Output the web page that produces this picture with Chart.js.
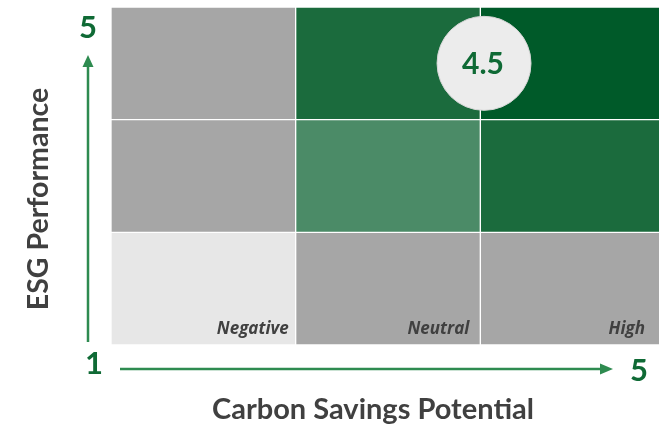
<!DOCTYPE html>
<html>
<head>
<meta charset="utf-8">
<script src="https://cdn.jsdelivr.net/npm/chart.js@4"></script>
<style>
  html, body { margin: 0; padding: 0; background: #fff; overflow: hidden; }
  #wrap { width: 659px; height: 424px; overflow: hidden; }
</style>
</head>
<body>
<div id="wrap"><canvas id="matrix" width="665" height="424"></canvas></div>
<script>
// Carbon savings potential (columns) vs ESG performance (rows)
const columns = ['Negative', 'Neutral', 'High'];
const rows = ['Low', 'Medium', 'High']; // bottom to top
// shade level of each cell, row by row from the bottom
const cellLevels = [
    [0, 1, 1],
    [1, 2, 3],
    [1, 3, 4]
];
const axisMin = 1;
const axisMax = 5;
const score = 4.5;
// where the score bubble sits on the grid (column units, row units)
const scorePos = { x: 2.02, y: 2.5 };

const palette = ['#e7e7e7', '#a6a6a6', '#4b8b67', '#1b6b3d', '#005a29'];
const green = '#2e8b50';
const darkGreen = '#0f6a35';
const textGray = '#404040';
const fontFamily = 'Lato, "Open Sans", sans-serif';

const ctx = document.getElementById('matrix').getContext('2d');

// one stacked dataset per row, each cell is one unit tall
const rowDatasets = rows.map((name, r) => ({
    type: 'bar',
    label: name,
    stack: 'cells',
    grouped: false,
    data: columns.map(() => 1),
    backgroundColor: cellLevels[r].map(l => palette[l]),
    borderColor: '#ffffff',
    borderWidth: 1,
    borderSkipped: false,
    barPercentage: 1,
    categoryPercentage: 1,
    xAxisID: 'x',
    yAxisID: 'y',
    order: 2
}));

// arrows, end values, axis titles and cell captions
const decorations = {
    id: 'decorations',
    afterDatasetsDraw(chart) {
        const c = chart.ctx;
        const area = chart.chartArea;
        const xs = chart.scales.x;
        c.save();

        // captions in the bottom row
        const inset = [7, 11, 20];
        const half = (xs.getPixelForValue(1) - xs.getPixelForValue(0)) / 2;
        c.fillStyle = textGray;
        c.font = 'italic bold 17px "Open Sans", sans-serif';
        c.textAlign = 'right';
        c.textBaseline = 'alphabetic';
        columns.forEach((name, i) => {
            c.fillText(name, xs.getPixelForValue(i) + half - inset[i], area.bottom - 11);
        });

        // score inside the bubble
        const bubble = chart.getDatasetMeta(rows.length).data[0];
        c.fillStyle = darkGreen;
        c.font = 'bold 30px ' + fontFamily;
        c.textAlign = 'center';
        c.textBaseline = 'middle';
        c.fillText(String(score), bubble.x - 1, bubble.y + 1);

        // axis arrows
        c.strokeStyle = green;
        c.fillStyle = green;
        c.lineWidth = 2.5;
        const ax = 88, ay = 369;
        c.beginPath();
        c.moveTo(ax, area.bottom - 3);
        c.lineTo(ax, 64);
        c.stroke();
        c.beginPath();
        c.moveTo(ax, 55);
        c.lineTo(ax - 5.5, 67);
        c.lineTo(ax + 5.5, 67);
        c.closePath();
        c.fill();

        c.beginPath();
        c.moveTo(120, ay);
        c.lineTo(604, ay);
        c.stroke();
        c.beginPath();
        c.moveTo(613, ay);
        c.lineTo(600, ay - 5.5);
        c.lineTo(600, ay + 5.5);
        c.closePath();
        c.fill();

        // end values
        c.fillStyle = darkGreen;
        c.font = 'bold 31px ' + fontFamily;
        c.textAlign = 'center';
        c.textBaseline = 'middle';
        c.fillText(String(axisMax), 88, 28);
        c.fillText(String(axisMin), 94, 364);
        c.fillText(String(axisMax), 639, 371);

        // axis titles
        c.fillStyle = textGray;
        c.font = 'bold 29px ' + fontFamily;
        c.fillText('Carbon Savings Potential', 373, 410);
        c.font = 'bold 28.5px ' + fontFamily;
        c.translate(39, 199);
        c.rotate(-Math.PI / 2);
        c.fillText('ESG Performance', 0, 0);
        c.restore();
    }
};

new Chart(ctx, {
    data: {
        labels: columns,
        datasets: [
            ...rowDatasets,
            {
                type: 'bubble',
                label: 'Score',
                data: [{ x: scorePos.x, y: scorePos.y, r: 47 }],
                backgroundColor: '#ececec',
                borderColor: '#d6d6d6',
                borderWidth: 1,
                xAxisID: 'xs',
                yAxisID: 'y',
                order: 1
            }
        ]
    },
    options: {
        responsive: false,
        animation: false,
        layout: { autoPadding: false, padding: { left: 111, top: 7, right: 0, bottom: 79 } },
        scales: {
            x: { type: 'category', stacked: true, display: false, offset: true, grid: { offset: true } },
            xs: { type: 'linear', min: 0, max: columns.length, display: false },
            y: { type: 'linear', stacked: true, min: 0, max: rows.length, display: false }
        },
        plugins: {
            legend: { display: false },
            tooltip: { enabled: false }
        }
    },
    plugins: [decorations]
});
</script>
</body>
</html>
